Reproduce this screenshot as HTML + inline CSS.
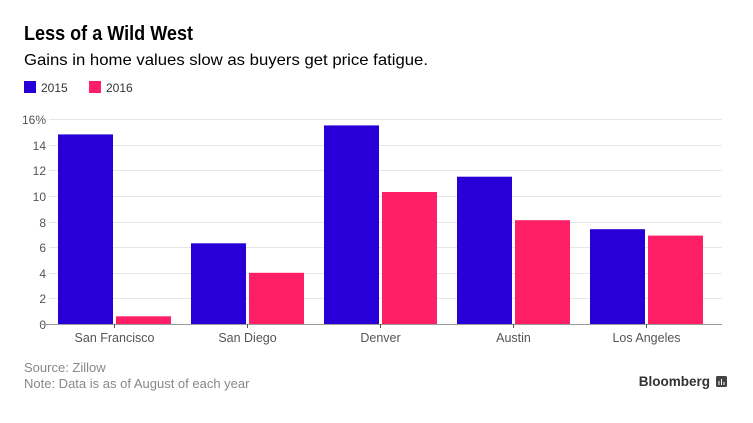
<!DOCTYPE html><html><head><meta charset="utf-8"><style>
body{margin:0;background:#fff;font-family:"Liberation Sans",sans-serif;}
</style></head><body>
<svg width="753" height="418" xmlns="http://www.w3.org/2000/svg" font-family="Liberation Sans, sans-serif">
<text x="24" y="40" font-size="20" font-weight="bold" fill="#000" textLength="169" lengthAdjust="spacingAndGlyphs">Less of a Wild West</text>
<text x="24" y="65" font-size="16" fill="#000" textLength="404" lengthAdjust="spacingAndGlyphs">Gains in home values slow as buyers get price fatigue.</text>
<rect x="24" y="81" width="12" height="12" fill="#2800d7"/><text x="41" y="92" font-size="12" fill="#333">2015</text>
<rect x="89" y="81" width="12" height="12" fill="#ff1f66"/><text x="106" y="92" font-size="12" fill="#333">2016</text>
<g stroke="#e6e6e6" stroke-width="1">
<line x1="49" x2="722" y1="119.5" y2="119.5"/><line x1="49" x2="722" y1="145.5" y2="145.5"/><line x1="49" x2="722" y1="170.5" y2="170.5"/><line x1="49" x2="722" y1="196.5" y2="196.5"/><line x1="49" x2="722" y1="222.5" y2="222.5"/><line x1="49" x2="722" y1="247.5" y2="247.5"/><line x1="49" x2="722" y1="273.5" y2="273.5"/><line x1="49" x2="722" y1="298.5" y2="298.5"/>
</g>
<g font-size="12" fill="#555" text-anchor="end">
<text x="46" y="124">16%</text><text x="46" y="150">14</text><text x="46" y="175">12</text><text x="46" y="201">10</text><text x="46" y="227">8</text><text x="46" y="252">6</text><text x="46" y="278">4</text><text x="46" y="303">2</text><text x="46" y="329">0</text>
</g>
<g fill="#2800d7">
<rect x="58" y="134.4" width="55" height="189.6"/><rect x="191" y="243.3" width="55" height="80.7"/><rect x="324" y="125.4" width="55" height="198.6"/><rect x="457" y="176.7" width="55" height="147.3"/><rect x="590" y="229.2" width="55" height="94.8"/>
</g>
<g fill="#ff1f66">
<rect x="116" y="316.3" width="55" height="7.7"/><rect x="249" y="272.8" width="55" height="51.2"/><rect x="382" y="192" width="55" height="132"/><rect x="515" y="220.2" width="55" height="103.8"/><rect x="648" y="235.6" width="55" height="88.4"/>
</g>
<line x1="40" x2="722" y1="324.5" y2="324.5" stroke="#999"/>
<g stroke="#555"><line x1="114.5" x2="114.5" y1="324" y2="328"/><line x1="247.5" x2="247.5" y1="324" y2="328"/><line x1="380.5" x2="380.5" y1="324" y2="328"/><line x1="513.5" x2="513.5" y1="324" y2="328"/><line x1="646.5" x2="646.5" y1="324" y2="328"/></g>
<g font-size="12.5" fill="#555" text-anchor="middle">
<text x="114.5" y="342">San Francisco</text><text x="247.5" y="342">San Diego</text><text x="380.5" y="342">Denver</text><text x="513.5" y="342">Austin</text><text x="646.5" y="342">Los Angeles</text>
</g>
<text x="24" y="372" font-size="13" fill="#888">Source: Zillow</text>
<text x="24" y="388" font-size="13" fill="#888">Note: Data is as of August of each year</text>
<text x="710" y="386" font-size="13.5" font-weight="bold" fill="#333" text-anchor="end">Bloomberg</text>
<rect x="716" y="376" width="11" height="11" rx="1.5" fill="#444"/>
<g stroke="#fff" stroke-width="1"><line x1="719" x2="719" y1="381" y2="385"/><line x1="721.5" x2="721.5" y1="379" y2="385"/><line x1="724" x2="724" y1="382" y2="385"/></g>
</svg>
</body></html>
